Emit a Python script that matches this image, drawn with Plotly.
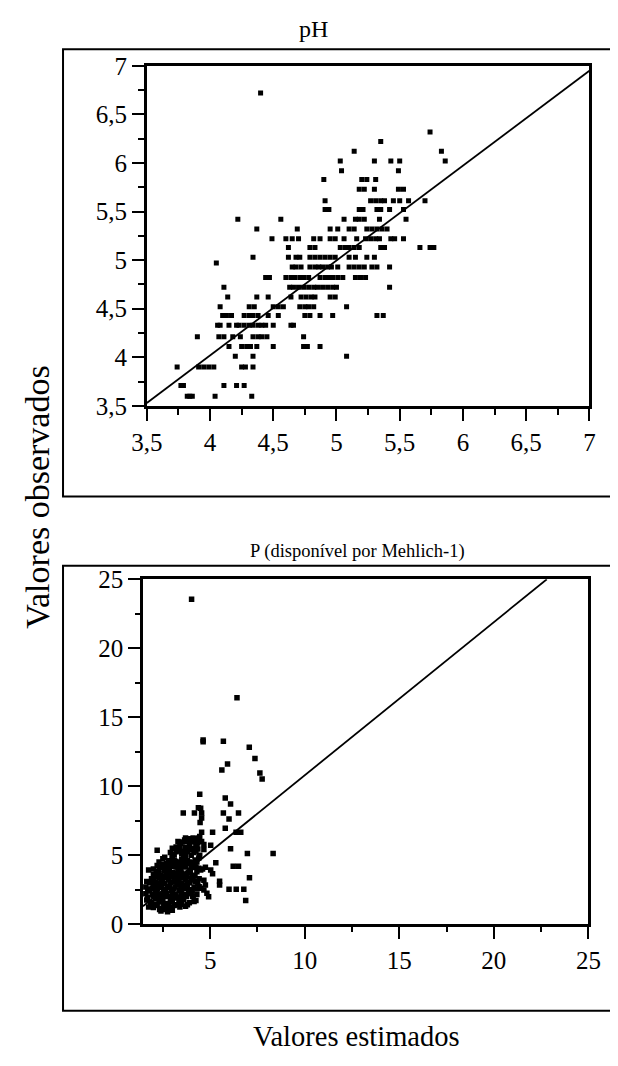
import plotly.graph_objects as go

# page is drawn with an 8px body margin; figure sized to fit the 618x1066 window
OFF = 8
W, H = 602, 1050

# ---------------- pH data (observed level -> estimated values) ----------------
ph_obs_levels = [6.72, 6.32, 6.22, 6.12, 6.02, 5.92, 5.83, 5.73, 5.61, 5.52, 5.42, 5.32,
                 5.22, 5.13, 5.03, 4.97, 4.93, 4.82, 4.72, 4.62, 4.52, 4.43, 4.33, 4.21,
                 4.11, 4.01, 3.90, 3.71, 3.60]
ph_est_by_level = [
    [4.40],
    [5.74],
    [5.35],
    [5.14, 5.83],
    [5.03, 5.30, 5.43, 5.50, 5.86],
    [5.04, 5.49],
    [4.90, 5.20, 5.24, 5.31],
    [5.18, 5.22, 5.30, 5.49, 5.53],
    [4.91, 5.27, 5.31, 5.35, 5.38, 5.45, 5.50, 5.57, 5.70],
    [4.91, 4.94, 5.18, 5.21, 5.32, 5.35, 5.42, 5.53],
    [4.22, 4.56, 5.06, 5.15, 5.18, 5.22, 5.34, 5.55],
    [4.37, 4.69, 4.95, 5.01, 5.10, 5.14, 5.24, 5.28, 5.32, 5.36, 5.40],
    [4.49, 4.60, 4.65, 4.70, 4.82, 4.87, 4.95, 4.99, 5.06, 5.16, 5.23, 5.27, 5.31, 5.34, 5.43, 5.46, 5.53],
    [4.62, 4.79, 4.83, 5.03, 5.07, 5.10, 5.14, 5.18, 5.35, 5.38, 5.66, 5.74, 5.77],
    [4.34, 4.62, 4.68, 4.71, 4.79, 4.83, 4.87, 4.91, 4.95, 4.99, 5.10, 5.15, 5.24, 5.30],
    [4.05],
    [4.65, 4.68, 4.72, 4.79, 4.83, 4.86, 4.89, 4.93, 4.96, 5.01, 5.10, 5.14, 5.18, 5.22, 5.28, 5.32, 5.42],
    [4.44, 4.47, 4.60, 4.64, 4.67, 4.71, 4.74, 4.78, 4.87, 4.91, 4.94, 4.97, 5.01, 5.05, 5.15, 5.19, 5.23],
    [4.11, 4.63, 4.66, 4.70, 4.74, 4.78, 4.82, 4.85, 4.89, 4.93, 4.97, 5.00, 5.42],
    [4.14, 4.37, 4.46, 4.64, 4.72, 4.76, 4.80, 4.83, 4.95, 4.99],
    [4.08, 4.31, 4.35, 4.50, 4.54, 4.58, 4.71, 4.75, 4.78, 4.82, 5.08],
    [4.10, 4.13, 4.17, 4.27, 4.31, 4.34, 4.38, 4.46, 4.54, 4.75, 4.79, 4.87, 4.97, 5.32, 5.37],
    [4.06, 4.08, 4.15, 4.21, 4.23, 4.27, 4.31, 4.34, 4.38, 4.41, 4.44, 4.50, 4.64, 4.66],
    [3.90, 4.07, 4.11, 4.18, 4.24, 4.34, 4.38, 4.41, 4.45, 4.74],
    [4.15, 4.25, 4.29, 4.32, 4.37, 4.50, 4.74, 4.77, 4.87],
    [4.20, 4.34, 5.08],
    [3.74, 3.91, 3.95, 3.99, 4.03, 4.25, 4.28, 4.34],
    [3.77, 3.79, 4.11, 4.21, 4.27],
    [3.82, 3.84, 3.86, 4.04, 4.33],
]
ph_line_x = [3.5, 7.0]
ph_line_y = [3.53, 6.95]
ph_ticks = [3.5, 4, 4.5, 5, 5.5, 6, 6.5, 7]
ph_ticklabels = ["3,5", "4", "4,5", "5", "5,5", "6", "6,5", "7"]

# ---------------- P data ----------------
p_est = [
    # outliers
    4.02, 6.42, 4.63, 4.63, 5.70, 7.07, 7.37, 5.92, 5.62, 7.63, 7.75,
    4.45, 5.80, 6.08, 3.58, 4.17, 4.38, 4.50, 4.55, 4.55, 4.47, 5.70, 6.50,
    6.00, 5.80, 5.13, 6.37, 6.62, 4.55, 4.45, 4.55, 5.03, 4.67, 4.67, 6.08,
    6.97, 8.33, 5.30, 6.22, 6.50, 5.03, 5.13, 7.08, 5.50, 5.50, 6.00, 6.38,
    6.78, 6.88, 4.92, 4.83, 4.67, 4.42, 4.75, 4.25, 4.08, 1.75, 4.42, 4.67,
    4.25, 4.50, 4.75,
    # dense cluster
    3.70, 3.90, 4.10, 4.30, 4.40,
    3.30, 3.55, 3.80, 4.00, 4.20, 4.35,
    3.20, 3.00, 3.40, 3.70, 3.90, 4.10, 4.30,
    2.20, 2.90, 3.10, 3.30, 3.50, 3.80, 4.00, 4.25, 4.45, 2.60,
    2.30, 2.50, 2.80, 3.00, 3.20, 3.50, 3.70, 3.90, 4.20, 4.40,
    2.00, 2.20, 2.40, 2.60, 2.85, 3.10, 3.30, 3.55, 3.80, 4.00, 4.20, 4.60,
    2.00, 2.15, 2.40, 2.60, 2.80, 3.00, 3.20, 3.40, 3.60, 3.85, 4.05, 4.30,
    1.65, 1.90, 2.10, 2.30, 2.50, 2.70, 2.90, 3.10, 3.35, 3.55, 3.80, 4.00, 4.20, 4.35,
    1.60, 1.80, 2.00, 2.20, 2.45, 2.65, 2.85, 3.05, 3.25, 3.45, 3.70, 3.90, 4.15, 4.50,
    1.60, 1.80, 2.00, 2.20, 2.40, 2.60, 2.80, 3.00, 3.20, 3.40, 3.60, 3.85, 4.10,
    1.65, 1.90, 2.10, 2.30, 2.50, 2.70, 2.90, 3.10, 3.35, 3.60, 3.90, 4.15,
    1.75, 2.00, 2.20, 2.45, 2.65, 2.90, 3.10, 3.40, 3.70,
    2.40, 2.75, 3.00, 2.33, 2.58,
    2.50, 2.75, 3.05, 3.30, 3.60, 2.35, 2.95, 3.25, 3.50, 3.15, 2.70, 3.45,
    # further cluster points
    1.85, 2.15, 2.55, 2.80, 3.00, 3.25, 3.50, 3.80,
    1.70, 1.95, 2.30, 2.55, 2.70, 2.95, 3.15, 3.30, 3.50, 3.75, 4.00, 4.30,
    1.70, 1.95, 2.10, 2.35, 2.55, 2.75, 2.95, 3.15, 3.35, 3.60, 3.80, 4.05, 4.30,
    1.80, 2.00, 2.20, 2.40, 2.60, 2.80, 3.00, 3.20, 3.45, 3.70, 3.90, 4.10,
    2.10, 2.30, 2.50, 2.70, 2.90, 3.10, 3.30, 3.50, 3.75, 3.95, 4.20,
    2.30, 2.50, 2.75, 2.95, 3.20, 3.45, 3.70, 3.95, 4.15, 4.40,
    2.70, 2.90, 3.10, 3.35, 3.60, 3.80, 4.05, 4.30,
    3.00, 3.20, 3.40, 3.60, 3.70, 3.90, 4.15, 4.35,
    3.45, 3.65, 4.05, 4.25,
]
p_obs = [
    23.55, 16.41, 13.35, 13.23, 13.26, 12.83, 12.01, 11.61, 11.18, 10.95, 10.52,
    9.42, 9.14, 8.71, 8.05, 8.05, 8.43, 8.41, 8.05, 7.70, 7.37, 8.05, 8.05,
    7.63, 6.95, 6.66, 6.66, 6.66, 6.66, 6.36, 6.00, 5.72, 5.77, 5.42, 5.46,
    5.13, 5.13, 4.45, 4.19, 4.19, 3.93, 3.65, 3.37, 3.11, 2.83, 2.54, 2.54,
    2.54, 1.72, 1.98, 2.24, 2.47, 2.71, 2.83, 1.72, 2.00, 3.93, 3.30, 3.18,
    4.12, 3.93, 4.12,
    6.25, 6.20, 6.25, 6.20, 6.25,
    6.00, 5.95, 6.00, 5.95, 6.05, 5.90,
    5.60, 5.50, 5.70, 5.55, 5.70, 5.50, 5.60,
    5.35, 5.20, 5.05, 5.30, 5.10, 5.25, 5.00, 5.30, 5.00, 4.85,
    4.50, 4.75, 4.60, 4.80, 4.55, 4.70, 4.85, 4.50, 4.65, 4.80,
    4.00, 4.25, 4.10, 4.35, 4.05, 4.30, 4.00, 4.20, 4.40, 4.10, 4.30, 4.00,
    3.60, 3.80, 3.55, 3.85, 3.60, 3.75, 3.50, 3.85, 3.60, 3.75, 3.55, 3.80,
    3.10, 3.30, 3.05, 3.35, 3.15, 3.40, 3.00, 3.25, 3.10, 3.35, 3.05, 3.30, 3.10, 2.95,
    2.70, 2.55, 2.85, 2.60, 2.80, 2.50, 2.75, 2.55, 2.85, 2.60, 2.80, 2.50, 2.70, 2.60,
    2.20, 2.40, 2.05, 2.30, 2.10, 2.35, 2.00, 2.25, 2.05, 2.40, 2.15, 2.30, 2.05,
    1.75, 1.55, 1.85, 1.60, 1.80, 1.50, 1.70, 1.90, 1.60, 1.80, 1.55, 1.65,
    1.25, 1.20, 1.35, 1.15, 1.30, 1.20, 1.35, 1.25, 1.30,
    0.95, 0.90, 1.00, 1.06, 1.06,
    4.30, 3.95, 4.60, 4.20, 4.90, 2.90, 3.55, 3.70, 2.95, 4.55, 2.20, 1.95,
    # further cluster points
    1.40, 1.45, 1.40, 1.45, 1.60, 1.40, 1.45, 1.40,
    1.95, 2.15, 1.95, 2.00, 2.20, 2.00, 2.15, 1.95, 2.20, 2.00, 2.20, 2.15,
    2.45, 2.60, 2.45, 2.65, 2.45, 2.65, 2.45, 2.70, 2.45, 2.60, 2.65, 2.45, 2.55,
    3.00, 3.20, 2.95, 3.20, 2.95, 3.20, 3.05, 3.20, 2.95, 3.20, 3.00, 3.20,
    3.45, 3.65, 3.45, 3.70, 3.45, 3.65, 3.45, 3.70, 3.45, 3.70, 3.50,
    3.95, 4.20, 3.95, 4.20, 4.15, 3.95, 4.15, 3.90, 4.20, 4.05,
    4.40, 4.55, 4.65, 4.45, 4.50, 4.60, 4.45, 4.50,
    5.00, 5.25, 5.45, 5.30, 5.05, 5.40, 5.20, 5.45,
    5.85, 6.10, 6.15, 5.85,
]
p_line_x = [1.45, 22.8]
p_line_y = [1.30, 25.0]
p_ticks_x = [5, 10, 15, 20, 25]
p_ticks_y = [0, 5, 10, 15, 20, 25]

titles = ["pH", "P (disponível por Mehlich-1)"]
y_title = "Valores observados"
x_title = "Valores estimados"

ph_est = [v for row in ph_est_by_level for v in row]
ph_obs = [lvl for lvl, row in zip(ph_obs_levels, ph_est_by_level) for _ in row]

FONT = "Liberation Serif"

def px_x(p):
    return (p - OFF) / W

def px_y(p):
    return 1 - (p - OFF) / H

fig = go.Figure()
fig.add_trace(go.Scatter(x=ph_est, y=ph_obs, mode="markers", xaxis="x", yaxis="y",
                         marker=dict(symbol="square", size=5, color="black"),
                         showlegend=False))
fig.add_trace(go.Scatter(x=ph_line_x, y=ph_line_y, mode="lines", xaxis="x", yaxis="y",
                         line=dict(color="black", width=1.8), showlegend=False))
fig.add_trace(go.Scatter(x=p_est, y=p_obs, mode="markers", xaxis="x2", yaxis="y2",
                         marker=dict(symbol="square", size=5.5, color="black"),
                         showlegend=False))
fig.add_trace(go.Scatter(x=p_line_x, y=p_line_y, mode="lines", xaxis="x2", yaxis="y2",
                         line=dict(color="black", width=1.8), showlegend=False))

TICKFONT = dict(family=FONT, size=25, color="black")
axis_common = dict(showline=True, linecolor="black", linewidth=2.5, mirror=True,
                   ticks="outside", tickcolor="black", tickwidth=2, showgrid=False,
                   zeroline=False, tickfont=TICKFONT, ticklen=12)

def minor(dt, ln):
    return dict(dtick=dt, tick0=0, ticks="outside", ticklen=ln, tickcolor="black", tickwidth=2)

fig.update_layout(
    width=W, height=H,
    margin=dict(l=0, r=0, t=0, b=0),
    font=dict(family=FONT, color="black"),
    paper_bgcolor="white", plot_bgcolor="white",
    xaxis=dict(domain=[px_x(137), px_x(602)], anchor="y", range=[3.5, 7],
               tickvals=ph_ticks, ticktext=ph_ticklabels, minor=minor(0.25, 6),
               **axis_common),
    yaxis=dict(domain=[px_y(403), px_y(54)], anchor="x", range=[3.5, 7],
               tickvals=ph_ticks, ticktext=ph_ticklabels, minor=minor(0.25, 6),
               **axis_common),
    xaxis2=dict(domain=[px_x(133), px_x(601)], anchor="y2", range=[1.45, 25],
                tickvals=p_ticks_x, minor=minor(2.5, 5),
                **axis_common),
    yaxis2=dict(domain=[px_y(935), px_y(581)], anchor="x2", range=[0, 25],
                tickvals=p_ticks_y, minor=minor(2.5, 5),
                **axis_common),
)

# outer frames
for top, bottom in [(37, 496), (567, 1024)]:
    fig.add_shape(type="rect", xref="paper", yref="paper",
                  x0=px_x(49), x1=1.05, y0=px_y(bottom), y1=px_y(top),
                  line=dict(color="black", width=2), fillcolor="rgba(0,0,0,0)")

fig.add_annotation(text=titles[0], x=px_x(312), y=px_y(16), xref="paper", yref="paper",
                   showarrow=False, font=dict(family=FONT, size=24, color="black"),
                   xanchor="center", yanchor="middle")
fig.add_annotation(text=titles[1], x=px_x(358), y=px_y(553), xref="paper", yref="paper",
                   showarrow=False, font=dict(family=FONT, size=18.5, color="black"),
                   xanchor="center", yanchor="middle")
fig.add_annotation(text=y_title, x=px_x(22), y=px_y(497), xref="paper", yref="paper",
                   showarrow=False, font=dict(family=FONT, size=34, color="black"),
                   textangle=-90, xanchor="center", yanchor="middle")
fig.add_annotation(text=x_title, x=px_x(357), y=px_y(1050), xref="paper", yref="paper",
                   showarrow=False, font=dict(family=FONT, size=28.5, color="black"),
                   xanchor="center", yanchor="middle")

fig.write_html("out.html")
